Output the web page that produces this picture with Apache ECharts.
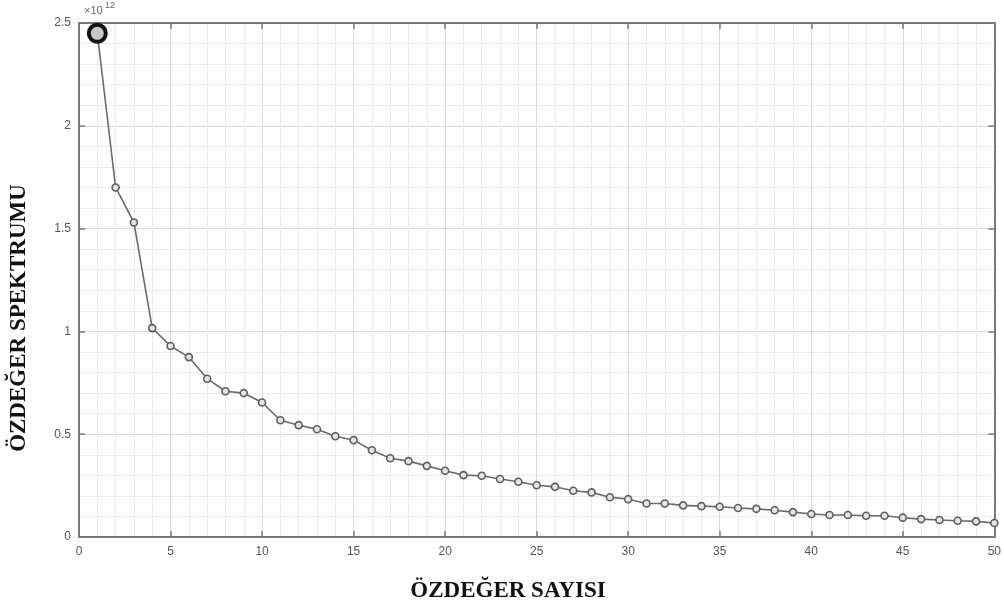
<!DOCTYPE html>
<html><head><meta charset="utf-8">
<script src="https://cdn.jsdelivr.net/npm/echarts@6/dist/echarts.min.js"></script>
<style>html,body{margin:0;padding:0;background:#fff}#c{width:1004px;height:608px}</style>
</head><body><div id="c"></div>
<script>
const eigenIndex = [1,2,3,4,5,6,7,8,9,10,11,12,13,14,15,16,17,18,19,20,21,22,23,24,25,26,27,28,29,30,31,32,33,34,35,36,37,38,39,40,41,42,43,44,45,46,47,48,49,50];
const eigenValues = [2.45,1.70,1.53,1.016,0.929,0.875,0.77,0.709,0.70,0.654,0.568,0.544,0.524,0.49,0.471,0.422,0.383,0.369,0.346,0.322,0.301,0.298,0.282,0.269,0.252,0.244,0.225,0.217,0.193,0.184,0.163,0.163,0.154,0.150,0.147,0.141,0.137,0.130,0.121,0.112,0.107,0.107,0.103,0.103,0.094,0.087,0.083,0.079,0.076,0.068];
const xTitle = 'ÖZDEĞER SAYISI';
const yTitle = 'ÖZDEĞER SPEKTRUMU';
const expLabel = '×10';
const expSup = '12';

const chart = echarts.init(document.getElementById('c'), null, {renderer:'canvas'});
const seriesData = eigenIndex.map((x,i)=> i===0
  ? {value:[x,eigenValues[i]], symbolSize:17, itemStyle:{color:'#c8c8c8', borderColor:'#111', borderWidth:4}}
  : [x,eigenValues[i]]);
const axisColor = '#7a7a7a';
const labelStyle = {color:'#555', fontFamily:'Liberation Sans, Arial', fontSize:12};
chart.setOption({
  animation:false,
  grid:{left:79, right:7, top:23, bottom:71},
  xAxis:[{
    type:'value', min:0, max:50, interval:5,
    axisLine:{show:true, onZero:false, lineStyle:{color:axisColor, width:2}},
    axisTick:{show:true, inside:true, length:6, lineStyle:{color:axisColor, width:1.5}},
    axisLabel:Object.assign({margin:9}, labelStyle),
    splitLine:{show:true, lineStyle:{color:'#dcdcdc', width:1}},
    minorTick:{show:false, splitNumber:5},
    minorSplitLine:{show:true, lineStyle:{color:'#ececec', width:1}}
  },{
    type:'value', min:0, max:50, interval:5, position:'top',
    axisLine:{show:true, onZero:false, lineStyle:{color:axisColor, width:2}},
    axisTick:{show:true, inside:true, length:6, lineStyle:{color:axisColor, width:1.5}},
    axisLabel:{show:false}, splitLine:{show:false}
  }],
  yAxis:[{
    type:'value', min:0, max:2.5, interval:0.5,
    axisLine:{show:true, onZero:false, lineStyle:{color:axisColor, width:2}},
    axisTick:{show:true, inside:true, length:6, lineStyle:{color:axisColor, width:1.5}},
    axisLabel:Object.assign({margin:8, formatter:v=>String(v)}, labelStyle),
    splitLine:{show:true, lineStyle:{color:'#dcdcdc', width:1}},
    minorTick:{show:false, splitNumber:5},
    minorSplitLine:{show:true, lineStyle:{color:'#ececec', width:1}}
  },{
    type:'value', min:0, max:2.5, interval:0.5, position:'right',
    axisLine:{show:true, onZero:false, lineStyle:{color:axisColor, width:2}},
    axisTick:{show:true, inside:true, length:6, lineStyle:{color:axisColor, width:1.5}},
    axisLabel:{show:false}, splitLine:{show:false}
  }],
  series:[{
    type:'line', data:seriesData, xAxisIndex:0, yAxisIndex:0,
    symbol:'circle', symbolSize:7, showSymbol:true,
    lineStyle:{color:'#6a6a6a', width:1.6},
    itemStyle:{color:'#e4e4e4', borderColor:'#5e5e5e', borderWidth:1.6},
    z:5
  }],
  graphic:[
    {type:'text', left:84, top:5, style:{text:expLabel, fill:'#666', font:'11px Liberation Sans, Arial'}},
    {type:'text', left:105, top:1, style:{text:expSup, fill:'#666', font:'9px Liberation Sans, Arial'}},
    {type:'text', x:508, y:591, style:{text:xTitle, fill:'#111', font:'bold 23px Liberation Serif, Times New Roman', align:'center', verticalAlign:'middle'}},
    {type:'text', x:19, y:318, rotation:Math.PI/2, style:{text:yTitle, fill:'#111', font:'bold 23px Liberation Serif, Times New Roman', align:'center', verticalAlign:'middle'}}
  ]
});
</script></body></html>
